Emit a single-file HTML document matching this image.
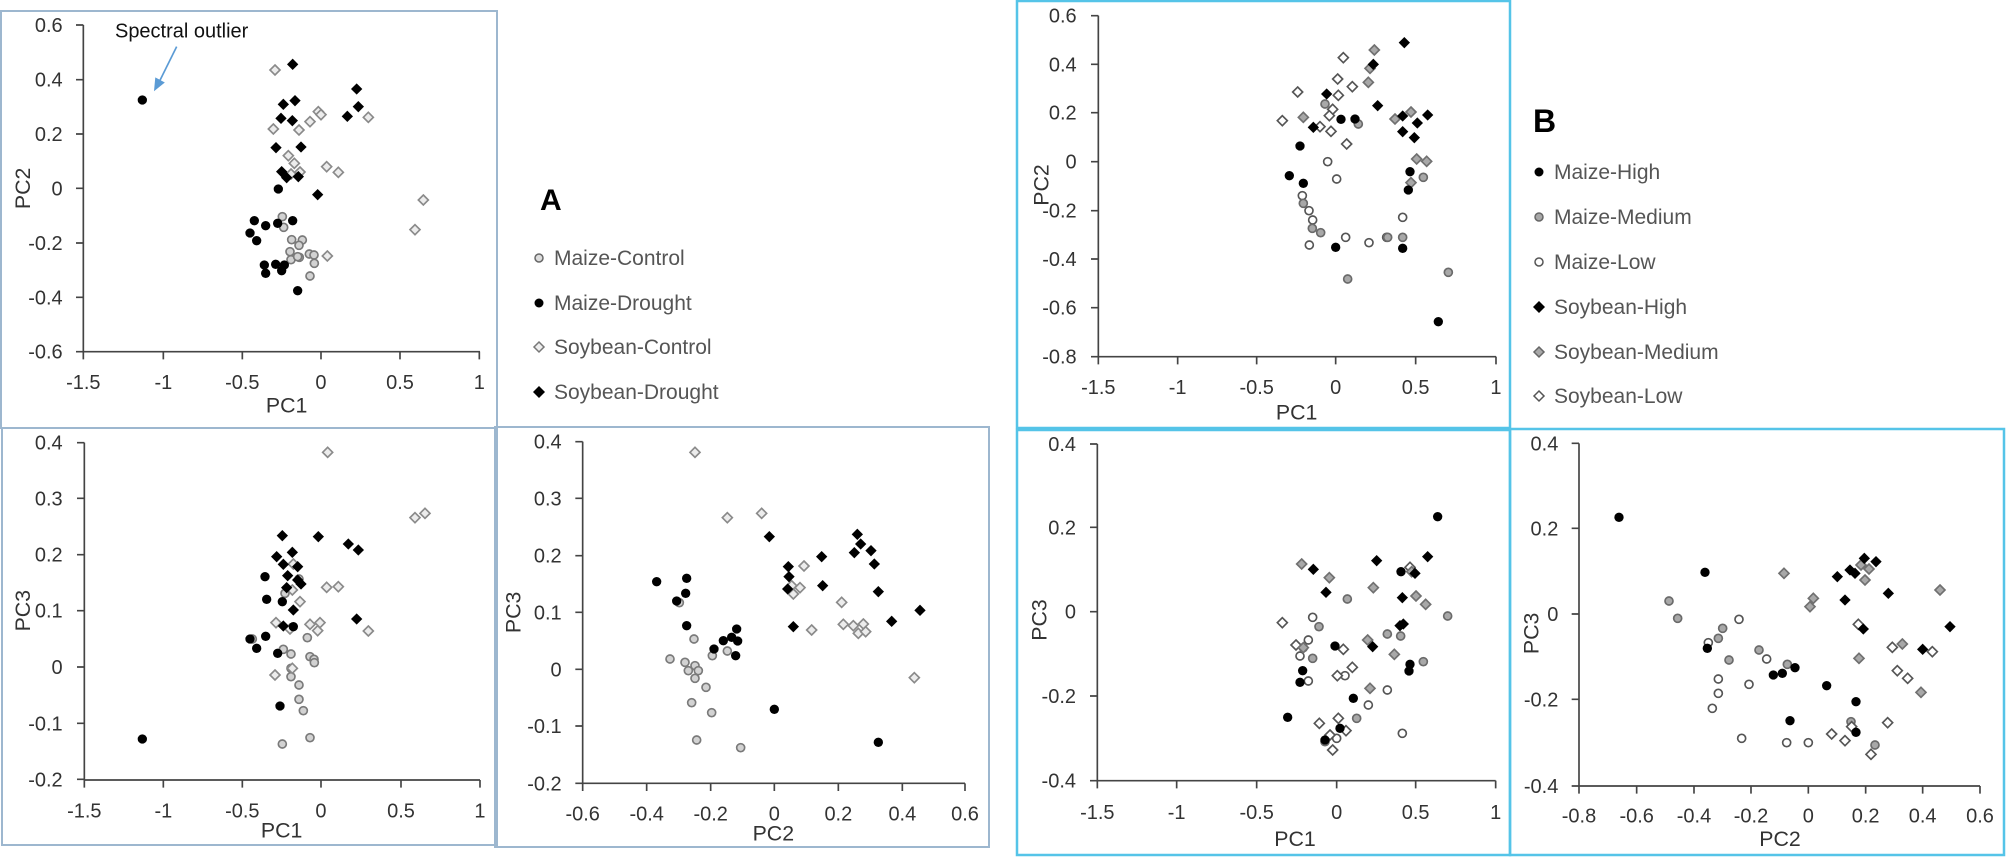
<!DOCTYPE html>
<html><head><meta charset="utf-8"><style>
html,body{margin:0;padding:0;background:#fff}
svg{display:block}
text{font-family:"Liberation Sans",sans-serif}
</style></head><body>
<svg width="2008" height="862" viewBox="0 0 2008 862" xmlns="http://www.w3.org/2000/svg">
<defs>
<circle id="bc" r="14" fill="#000"/>
<circle id="gc" r="12" fill="#d2d2d2" stroke="#7a7a7a" stroke-width="5"/>
<polygon id="bd" points="0,-17 17,0 0,17 -17,0" fill="#000"/>
<polygon id="ld" points="0,-15 15,0 0,15 -15,0" fill="#ececec" stroke="#8a8a8a" stroke-width="5"/>
<circle id="mc" r="12" fill="#a8a8a8" stroke="#6a6a6a" stroke-width="5"/>
<circle id="wc" r="12" fill="#fff" stroke="#555" stroke-width="5"/>
<polygon id="md" points="0,-15 15,0 0,15 -15,0" fill="#a8a8a8" stroke="#707070" stroke-width="5"/>
<polygon id="wd" points="0,-15 15,0 0,15 -15,0" fill="#fff" stroke="#555" stroke-width="5"/>
</defs>

<!-- frames -->
<g fill="none" stroke="#9db7cf" stroke-width="2">
<rect x="1" y="11" width="496" height="417"/>
<rect x="2" y="428" width="495" height="417"/>
<rect x="495" y="427" width="494" height="420"/>
</g>
<g fill="none" stroke="#55c4e8" stroke-width="2.5">
<rect x="1017" y="1" width="493" height="427"/>
<rect x="1017" y="430" width="493" height="425"/>
<rect x="1510" y="429" width="494" height="426"/>
</g>

<!-- Panel A1 -->
<g transform="translate(0,0) scale(0.33333)">
<g stroke="#444" stroke-width="5" fill="none">
<path d="M250,75V1055H1440"/>
<path d="M228,75H250M228,239H250M228,402H250M228,565H250M228,729H250M228,892H250M228,1055H250"/>
<path d="M250,1055V1078M490,1055V1078M727,1055V1078M963,1055V1078M1200,1055V1078M1438,1055V1078"/>
</g>
<g font-size="60" fill="#333" text-anchor="end">
<text x="188" y="96">0.6</text><text x="188" y="260">0.4</text><text x="188" y="423">0.2</text><text x="188" y="586">0</text><text x="188" y="750">-0.2</text><text x="188" y="913">-0.4</text><text x="188" y="1076">-0.6</text>
</g>
<g font-size="60" fill="#333" text-anchor="middle">
<text x="250" y="1167">-1.5</text><text x="490" y="1167">-1</text><text x="727" y="1167">-0.5</text><text x="963" y="1167">0</text><text x="1200" y="1167">0.5</text><text x="1438" y="1167">1</text>
<text x="860" y="1238" font-size="64">PC1</text>
<text transform="translate(90,565) rotate(-90)" font-size="64">PC2</text>
</g>
<text x="345" y="113" font-size="60" fill="#111">Spectral outlier</text>
<g stroke="#5b9bd5" stroke-width="5" fill="#5b9bd5"><path d="M530,140L478,245" fill="none"/><polygon points="465,268 468,236 490,248"/></g>
<g>
<use href="#gc" x="847" y="650"/><use href="#gc" x="851" y="682"/><use href="#gc" x="875" y="719"/><use href="#gc" x="907" y="720"/><use href="#gc" x="897" y="736"/><use href="#gc" x="870" y="755"/><use href="#gc" x="873" y="779"/><use href="#gc" x="898" y="772"/><use href="#gc" x="928" y="762"/><use href="#gc" x="942" y="765"/><use href="#gc" x="943" y="790"/><use href="#gc" x="930" y="828"/><use href="#gc" x="893" y="770"/>
<use href="#ld" x="825" y="210"/><use href="#ld" x="820" y="387"/><use href="#ld" x="897" y="390"/><use href="#ld" x="930" y="365"/><use href="#ld" x="955" y="335"/><use href="#ld" x="963" y="344"/><use href="#ld" x="865" y="467"/><use href="#ld" x="883" y="490"/><use href="#ld" x="900" y="516"/><use href="#ld" x="980" y="500"/><use href="#ld" x="1015" y="517"/><use href="#ld" x="1105" y="352"/><use href="#ld" x="1270" y="600"/><use href="#ld" x="1245" y="689"/><use href="#ld" x="982" y="768"/><use href="#ld" x="873" y="522"/>
<use href="#bc" x="427" y="300"/><use href="#bc" x="835" y="567"/><use href="#bc" x="763" y="662"/><use href="#bc" x="797" y="677"/><use href="#bc" x="833" y="670"/><use href="#bc" x="878" y="662"/><use href="#bc" x="750" y="699"/><use href="#bc" x="770" y="722"/><use href="#bc" x="793" y="795"/><use href="#bc" x="797" y="820"/><use href="#bc" x="827" y="793"/><use href="#bc" x="845" y="812"/><use href="#bc" x="853" y="795"/><use href="#bc" x="893" y="872"/>
<use href="#bd" x="878" y="193"/><use href="#bd" x="850" y="313"/><use href="#bd" x="885" y="302"/><use href="#bd" x="843" y="355"/><use href="#bd" x="877" y="362"/><use href="#bd" x="828" y="443"/><use href="#bd" x="903" y="441"/><use href="#bd" x="845" y="515"/><use href="#bd" x="860" y="533"/><use href="#bd" x="895" y="530"/><use href="#bd" x="953" y="584"/><use href="#bd" x="1070" y="267"/><use href="#bd" x="1075" y="320"/><use href="#bd" x="1042" y="349"/>
</g>
</g>

<!-- Panel A2 -->
<g transform="translate(0,420) scale(0.33333)">
<g stroke="#444" stroke-width="5" fill="none">
<path d="M253,68V1080H1440"/>
<path d="M231,68H253M231,235H253M231,404H253M231,572H253M231,741H253M231,910H253M231,1078H253"/>
<path d="M253,1080V1103M490,1080V1103M727,1080V1103M963,1080V1103M1203,1080V1103M1440,1080V1103"/>
</g>
<g font-size="60" fill="#333" text-anchor="end">
<text x="188" y="89">0.4</text><text x="188" y="256">0.3</text><text x="188" y="425">0.2</text><text x="188" y="593">0.1</text><text x="188" y="762">0</text><text x="188" y="931">-0.1</text><text x="188" y="1099">-0.2</text>
</g>
<g font-size="60" fill="#333" text-anchor="middle">
<text x="253" y="1192">-1.5</text><text x="490" y="1192">-1</text><text x="727" y="1192">-0.5</text><text x="963" y="1192">0</text><text x="1203" y="1192">0.5</text><text x="1440" y="1192">1</text>
<text x="845" y="1252" font-size="64">PC1</text>
<text transform="translate(90,572) rotate(-90)" font-size="64">PC3</text>
</g>
<g>
<use href="#gc" x="757" y="657"/><use href="#gc" x="850" y="688"/><use href="#gc" x="873" y="702"/><use href="#gc" x="873" y="745"/><use href="#gc" x="873" y="770"/><use href="#gc" x="897" y="795"/><use href="#gc" x="897" y="838"/><use href="#gc" x="910" y="872"/><use href="#gc" x="930" y="953"/><use href="#gc" x="847" y="972"/><use href="#gc" x="922" y="653"/><use href="#gc" x="930" y="710"/><use href="#gc" x="942" y="718"/><use href="#gc" x="943" y="728"/><use href="#gc" x="855" y="520"/><use href="#gc" x="897" y="477"/>
<use href="#ld" x="983" y="97"/><use href="#ld" x="1245" y="293"/><use href="#ld" x="1275" y="280"/><use href="#ld" x="980" y="502"/><use href="#ld" x="1015" y="500"/><use href="#ld" x="900" y="545"/><use href="#ld" x="877" y="510"/><use href="#ld" x="828" y="608"/><use href="#ld" x="870" y="627"/><use href="#ld" x="930" y="613"/><use href="#ld" x="960" y="608"/><use href="#ld" x="953" y="632"/><use href="#ld" x="1105" y="633"/><use href="#ld" x="825" y="765"/><use href="#ld" x="877" y="745"/><use href="#ld" x="880" y="432"/>
<use href="#bc" x="427" y="957"/><use href="#bc" x="795" y="470"/><use href="#bc" x="800" y="538"/><use href="#bc" x="847" y="545"/><use href="#bc" x="750" y="657"/><use href="#bc" x="770" y="685"/><use href="#bc" x="797" y="649"/><use href="#bc" x="833" y="700"/><use href="#bc" x="840" y="858"/><use href="#bc" x="880" y="620"/>
<use href="#bd" x="847" y="347"/><use href="#bd" x="955" y="350"/><use href="#bd" x="1045" y="372"/><use href="#bd" x="1075" y="390"/><use href="#bd" x="830" y="410"/><use href="#bd" x="877" y="397"/><use href="#bd" x="850" y="433"/><use href="#bd" x="893" y="440"/><use href="#bd" x="863" y="467"/><use href="#bd" x="893" y="480"/><use href="#bd" x="903" y="492"/><use href="#bd" x="860" y="503"/><use href="#bd" x="880" y="570"/><use href="#bd" x="850" y="618"/><use href="#bd" x="1070" y="597"/>
</g>
</g>

<!-- Panel A3 -->
<g transform="translate(490,420) scale(0.33333)">
<g stroke="#444" stroke-width="5" fill="none">
<path d="M278,65V1090H1425"/>
<path d="M256,65H278M256,235H278M256,407H278M256,577H278M256,748H278M256,918H278M256,1090H278"/>
<path d="M278,1090V1113M470,1090V1113M662,1090V1113M853,1090V1113M1045,1090V1113M1237,1090V1113M1425,1090V1113"/>
</g>
<g font-size="60" fill="#333" text-anchor="end">
<text x="215" y="86">0.4</text><text x="215" y="256">0.3</text><text x="215" y="428">0.2</text><text x="215" y="598">0.1</text><text x="215" y="769">0</text><text x="215" y="939">-0.1</text><text x="215" y="1111">-0.2</text>
</g>
<g font-size="60" fill="#333" text-anchor="middle">
<text x="278" y="1202">-0.6</text><text x="470" y="1202">-0.4</text><text x="662" y="1202">-0.2</text><text x="853" y="1202">0</text><text x="1045" y="1202">0.2</text><text x="1237" y="1202">0.4</text><text x="1425" y="1202">0.6</text>
<text x="850" y="1262" font-size="64">PC2</text>
<text transform="translate(92,577) rotate(-90)" font-size="64">PC3</text>
</g>
<g>
<use href="#gc" x="568" y="548"/><use href="#gc" x="540" y="717"/><use href="#gc" x="585" y="727"/><use href="#gc" x="595" y="752"/><use href="#gc" x="615" y="737"/><use href="#gc" x="625" y="752"/><use href="#gc" x="615" y="775"/><use href="#gc" x="648" y="802"/><use href="#gc" x="612" y="657"/><use href="#gc" x="667" y="707"/><use href="#gc" x="712" y="693"/><use href="#gc" x="605" y="848"/><use href="#gc" x="665" y="878"/><use href="#gc" x="620" y="960"/><use href="#gc" x="752" y="983"/>
<use href="#ld" x="615" y="97"/><use href="#ld" x="712" y="293"/><use href="#ld" x="815" y="280"/><use href="#ld" x="942" y="438"/><use href="#ld" x="930" y="503"/><use href="#ld" x="910" y="522"/><use href="#ld" x="965" y="630"/><use href="#ld" x="1055" y="547"/><use href="#ld" x="1060" y="613"/><use href="#ld" x="1090" y="617"/><use href="#ld" x="1105" y="640"/><use href="#ld" x="1120" y="612"/><use href="#ld" x="1127" y="635"/><use href="#ld" x="1273" y="773"/><use href="#ld" x="905" y="497"/>
<use href="#bc" x="500" y="485"/><use href="#bc" x="590" y="475"/><use href="#bc" x="587" y="520"/><use href="#bc" x="560" y="543"/><use href="#bc" x="590" y="617"/><use href="#bc" x="672" y="687"/><use href="#bc" x="700" y="662"/><use href="#bc" x="725" y="652"/><use href="#bc" x="740" y="627"/><use href="#bc" x="743" y="663"/><use href="#bc" x="737" y="707"/><use href="#bc" x="853" y="868"/><use href="#bc" x="1165" y="967"/>
<use href="#bd" x="838" y="350"/><use href="#bd" x="895" y="440"/><use href="#bd" x="897" y="470"/><use href="#bd" x="893" y="507"/><use href="#bd" x="910" y="620"/><use href="#bd" x="995" y="410"/><use href="#bd" x="998" y="497"/><use href="#bd" x="1102" y="343"/><use href="#bd" x="1093" y="398"/><use href="#bd" x="1112" y="372"/><use href="#bd" x="1143" y="392"/><use href="#bd" x="1153" y="432"/><use href="#bd" x="1165" y="515"/><use href="#bd" x="1205" y="604"/><use href="#bd" x="1290" y="571"/>
</g>
</g>

<!-- Legend A -->
<text x="540" y="210" font-size="30" font-weight="bold" fill="#000">A</text>
<g font-size="21" fill="#555">
<circle cx="539" cy="258" r="4" fill="#ddd" stroke="#666" stroke-width="1.5"/><text x="554" y="265">Maize-Control</text>
<circle cx="539" cy="303" r="4.5" fill="#000"/><text x="554" y="310">Maize-Drought</text>
<polygon points="539,342 544,347 539,352 534,347" fill="#eee" stroke="#777" stroke-width="1.5"/><text x="554" y="354">Soybean-Control</text>
<polygon points="539,386 545,392 539,398 533,392" fill="#000"/><text x="554" y="399">Soybean-Drought</text>
</g>

<!-- Panel B1 -->
<g transform="translate(1010,0) scale(0.33333)">
<g stroke="#444" stroke-width="5" fill="none">
<path d="M265,47V1070H1458"/>
<path d="M243,47H265M243,193H265M243,338H265M243,485H265M243,632H265M243,777H265M243,923H265M243,1070H265"/>
<path d="M265,1070V1093M503,1070V1093M740,1070V1093M977,1070V1093M1217,1070V1093M1458,1070V1093"/>
</g>
<g font-size="60" fill="#333" text-anchor="end">
<text x="200" y="68">0.6</text><text x="200" y="214">0.4</text><text x="200" y="359">0.2</text><text x="200" y="506">0</text><text x="200" y="653">-0.2</text><text x="200" y="798">-0.4</text><text x="200" y="944">-0.6</text><text x="200" y="1091">-0.8</text>
</g>
<g font-size="60" fill="#333" text-anchor="middle">
<text x="265" y="1182">-1.5</text><text x="503" y="1182">-1</text><text x="740" y="1182">-0.5</text><text x="977" y="1182">0</text><text x="1217" y="1182">0.5</text><text x="1458" y="1182">1</text>
<text x="860" y="1258" font-size="64">PC1</text>
<text transform="translate(115,555) rotate(-90)" font-size="64">PC2</text>
</g>
<g>
<use href="#wc" x="953" y="485"/><use href="#wc" x="980" y="537"/><use href="#wc" x="877" y="587"/><use href="#wc" x="897" y="632"/><use href="#wc" x="908" y="660"/><use href="#wc" x="898" y="735"/><use href="#wc" x="1007" y="712"/><use href="#wc" x="1077" y="728"/><use href="#wc" x="1178" y="652"/><use href="#wc" x="1130" y="712"/>
<use href="#mc" x="945" y="312"/><use href="#mc" x="1045" y="372"/><use href="#mc" x="880" y="610"/><use href="#mc" x="907" y="685"/><use href="#mc" x="932" y="698"/><use href="#mc" x="1133" y="712"/><use href="#mc" x="1178" y="712"/><use href="#mc" x="1240" y="532"/><use href="#mc" x="1013" y="837"/><use href="#mc" x="1315" y="817"/>
<use href="#wd" x="1000" y="173"/><use href="#wd" x="983" y="237"/><use href="#wd" x="1027" y="260"/><use href="#wd" x="985" y="286"/><use href="#wd" x="863" y="276"/><use href="#wd" x="817" y="362"/><use href="#wd" x="968" y="328"/><use href="#wd" x="958" y="347"/><use href="#wd" x="930" y="380"/><use href="#wd" x="963" y="394"/><use href="#wd" x="1010" y="432"/>
<use href="#md" x="1093" y="150"/><use href="#md" x="1080" y="205"/><use href="#md" x="1075" y="247"/><use href="#md" x="880" y="352"/><use href="#md" x="1155" y="357"/><use href="#md" x="1203" y="336"/><use href="#md" x="1220" y="477"/><use href="#md" x="1250" y="484"/><use href="#md" x="1203" y="548"/>
<use href="#bc" x="870" y="438"/><use href="#bc" x="838" y="527"/><use href="#bc" x="880" y="550"/><use href="#bc" x="993" y="358"/><use href="#bc" x="1035" y="357"/><use href="#bc" x="977" y="742"/><use href="#bc" x="1178" y="745"/><use href="#bc" x="1200" y="515"/><use href="#bc" x="1195" y="570"/><use href="#bc" x="1285" y="965"/>
<use href="#bd" x="1183" y="128"/><use href="#bd" x="1090" y="193"/><use href="#bd" x="950" y="282"/><use href="#bd" x="1103" y="317"/><use href="#bd" x="910" y="382"/><use href="#bd" x="1178" y="348"/><use href="#bd" x="1178" y="395"/><use href="#bd" x="1222" y="369"/><use href="#bd" x="1213" y="413"/><use href="#bd" x="1253" y="345"/>
</g>
</g>

<!-- Legend B -->
<text x="1533" y="132" font-size="32" font-weight="bold" fill="#000">B</text>
<g font-size="21" fill="#555">
<circle cx="1539" cy="172" r="4.5" fill="#000"/><text x="1554" y="179">Maize-High</text>
<circle cx="1539" cy="217" r="4" fill="#a8a8a8" stroke="#666" stroke-width="1.5"/><text x="1554" y="224">Maize-Medium</text>
<circle cx="1539" cy="262" r="4" fill="#fff" stroke="#555" stroke-width="1.5"/><text x="1554" y="269">Maize-Low</text>
<polygon points="1539,301 1545,307 1539,313 1533,307" fill="#000"/><text x="1554" y="314">Soybean-High</text>
<polygon points="1539,347 1544,352 1539,357 1534,352" fill="#a8a8a8" stroke="#666" stroke-width="1.5"/><text x="1554" y="359">Soybean-Medium</text>
<polygon points="1539,391 1544,396 1539,401 1534,396" fill="#fff" stroke="#555" stroke-width="1.5"/><text x="1554" y="403">Soybean-Low</text>
</g>

<!-- Panel B2 -->
<g transform="translate(1000,420) scale(0.33333)">
<g stroke="#444" stroke-width="5" fill="none">
<path d="M292,72V1082H1487"/>
<path d="M270,72H292M270,322H292M270,575H292M270,828H292M270,1082H292"/>
<path d="M292,1082V1105M530,1082V1105M770,1082V1105M1010,1082V1105M1247,1082V1105M1487,1082V1105"/>
</g>
<g font-size="60" fill="#333" text-anchor="end">
<text x="228" y="93">0.4</text><text x="228" y="343">0.2</text><text x="228" y="596">0</text><text x="228" y="849">-0.2</text><text x="228" y="1103">-0.4</text>
</g>
<g font-size="60" fill="#333" text-anchor="middle">
<text x="292" y="1197">-1.5</text><text x="530" y="1197">-1</text><text x="770" y="1197">-0.5</text><text x="1010" y="1197">0</text><text x="1247" y="1197">0.5</text><text x="1487" y="1197">1</text>
<text x="885" y="1278" font-size="64">PC1</text>
<text transform="translate(140,600) rotate(-90)" font-size="64">PC3</text>
</g>
<g>
<use href="#wc" x="938" y="592"/><use href="#wc" x="925" y="660"/><use href="#wc" x="900" y="708"/><use href="#wc" x="925" y="783"/><use href="#wc" x="1035" y="767"/><use href="#wc" x="1162" y="810"/><use href="#wc" x="1105" y="855"/><use href="#wc" x="1207" y="940"/><use href="#wc" x="1010" y="955"/>
<use href="#mc" x="1042" y="537"/><use href="#mc" x="957" y="620"/><use href="#mc" x="938" y="715"/><use href="#mc" x="910" y="683"/><use href="#mc" x="1162" y="642"/><use href="#mc" x="1202" y="648"/><use href="#mc" x="1343" y="588"/><use href="#mc" x="1270" y="725"/><use href="#mc" x="1070" y="895"/><use href="#mc" x="975" y="965"/>
<use href="#wd" x="847" y="608"/><use href="#wd" x="888" y="675"/><use href="#wd" x="1030" y="688"/><use href="#wd" x="1057" y="742"/><use href="#wd" x="1012" y="767"/><use href="#wd" x="1015" y="895"/><use href="#wd" x="958" y="910"/><use href="#wd" x="990" y="945"/><use href="#wd" x="1038" y="932"/><use href="#wd" x="998" y="990"/><use href="#wd" x="1230" y="442"/>
<use href="#md" x="905" y="432"/><use href="#md" x="988" y="473"/><use href="#md" x="1120" y="503"/><use href="#md" x="1235" y="455"/><use href="#md" x="1248" y="528"/><use href="#md" x="1277" y="553"/><use href="#md" x="1103" y="660"/><use href="#md" x="1183" y="703"/><use href="#md" x="1110" y="805"/><use href="#md" x="910" y="683"/>
<use href="#bc" x="1313" y="290"/><use href="#bc" x="1203" y="455"/><use href="#bc" x="1005" y="678"/><use href="#bc" x="908" y="752"/><use href="#bc" x="900" y="787"/><use href="#bc" x="863" y="892"/><use href="#bc" x="1060" y="835"/><use href="#bc" x="1020" y="925"/><use href="#bc" x="975" y="960"/><use href="#bc" x="1230" y="733"/><use href="#bc" x="1227" y="753"/>
<use href="#bd" x="940" y="448"/><use href="#bd" x="978" y="517"/><use href="#bd" x="1130" y="422"/><use href="#bd" x="1207" y="533"/><use href="#bd" x="1245" y="460"/><use href="#bd" x="1283" y="410"/><use href="#bd" x="1210" y="612"/><use href="#bd" x="1200" y="617"/><use href="#bd" x="1118" y="680"/>
</g>
</g>

<!-- Panel B3 -->
<g transform="translate(1500,420) scale(0.33333)">
<g stroke="#444" stroke-width="5" fill="none">
<path d="M237,70V1098H1440"/>
<path d="M215,70H237M215,325H237M215,582H237M215,838H237M215,1098H237"/>
<path d="M237,1098V1121M410,1098V1121M582,1098V1121M753,1098V1121M925,1098V1121M1097,1098V1121M1268,1098V1121M1440,1098V1121"/>
</g>
<g font-size="60" fill="#333" text-anchor="end">
<text x="175" y="91">0.4</text><text x="175" y="346">0.2</text><text x="175" y="603">0</text><text x="175" y="859">-0.2</text><text x="175" y="1119">-0.4</text>
</g>
<g font-size="60" fill="#333" text-anchor="middle">
<text x="237" y="1207">-0.8</text><text x="410" y="1207">-0.6</text><text x="582" y="1207">-0.4</text><text x="753" y="1207">-0.2</text><text x="925" y="1207">0</text><text x="1097" y="1207">0.2</text><text x="1268" y="1207">0.4</text><text x="1440" y="1207">0.6</text>
<text x="840" y="1278" font-size="64">PC2</text>
<text transform="translate(115,640) rotate(-90)" font-size="64">PC3</text>
</g>
<g>
<use href="#wc" x="717" y="598"/><use href="#wc" x="625" y="668"/><use href="#wc" x="800" y="717"/><use href="#wc" x="655" y="777"/><use href="#wc" x="747" y="793"/><use href="#wc" x="655" y="820"/><use href="#wc" x="637" y="865"/><use href="#wc" x="725" y="955"/><use href="#wc" x="860" y="968"/><use href="#wc" x="925" y="968"/>
<use href="#mc" x="507" y="543"/><use href="#mc" x="533" y="595"/><use href="#mc" x="668" y="625"/><use href="#mc" x="655" y="655"/><use href="#mc" x="687" y="720"/><use href="#mc" x="777" y="690"/><use href="#mc" x="862" y="733"/><use href="#mc" x="1125" y="975"/><use href="#mc" x="1053" y="905"/>
<use href="#wd" x="1075" y="613"/><use href="#wd" x="1177" y="682"/><use href="#wd" x="1297" y="695"/><use href="#wd" x="1192" y="752"/><use href="#wd" x="1223" y="775"/><use href="#wd" x="1163" y="908"/><use href="#wd" x="995" y="942"/><use href="#wd" x="1035" y="962"/><use href="#wd" x="1113" y="1003"/><use href="#wd" x="1055" y="920"/>
<use href="#md" x="852" y="460"/><use href="#md" x="1083" y="435"/><use href="#md" x="1107" y="447"/><use href="#md" x="1095" y="480"/><use href="#md" x="940" y="535"/><use href="#md" x="930" y="560"/><use href="#md" x="1320" y="510"/><use href="#md" x="1207" y="672"/><use href="#md" x="1077" y="715"/><use href="#md" x="1263" y="817"/>
<use href="#bc" x="357" y="292"/><use href="#bc" x="615" y="457"/><use href="#bc" x="622" y="685"/><use href="#bc" x="820" y="765"/><use href="#bc" x="847" y="760"/><use href="#bc" x="885" y="743"/><use href="#bc" x="980" y="797"/><use href="#bc" x="1068" y="845"/><use href="#bc" x="870" y="902"/><use href="#bc" x="1068" y="937"/>
<use href="#bd" x="1093" y="415"/><use href="#bd" x="1128" y="425"/><use href="#bd" x="1050" y="450"/><use href="#bd" x="1065" y="460"/><use href="#bd" x="1012" y="470"/><use href="#bd" x="1165" y="520"/><use href="#bd" x="1035" y="540"/><use href="#bd" x="1090" y="627"/><use href="#bd" x="1268" y="688"/><use href="#bd" x="1350" y="620"/>
</g>
</g>
</svg>
</body></html>
